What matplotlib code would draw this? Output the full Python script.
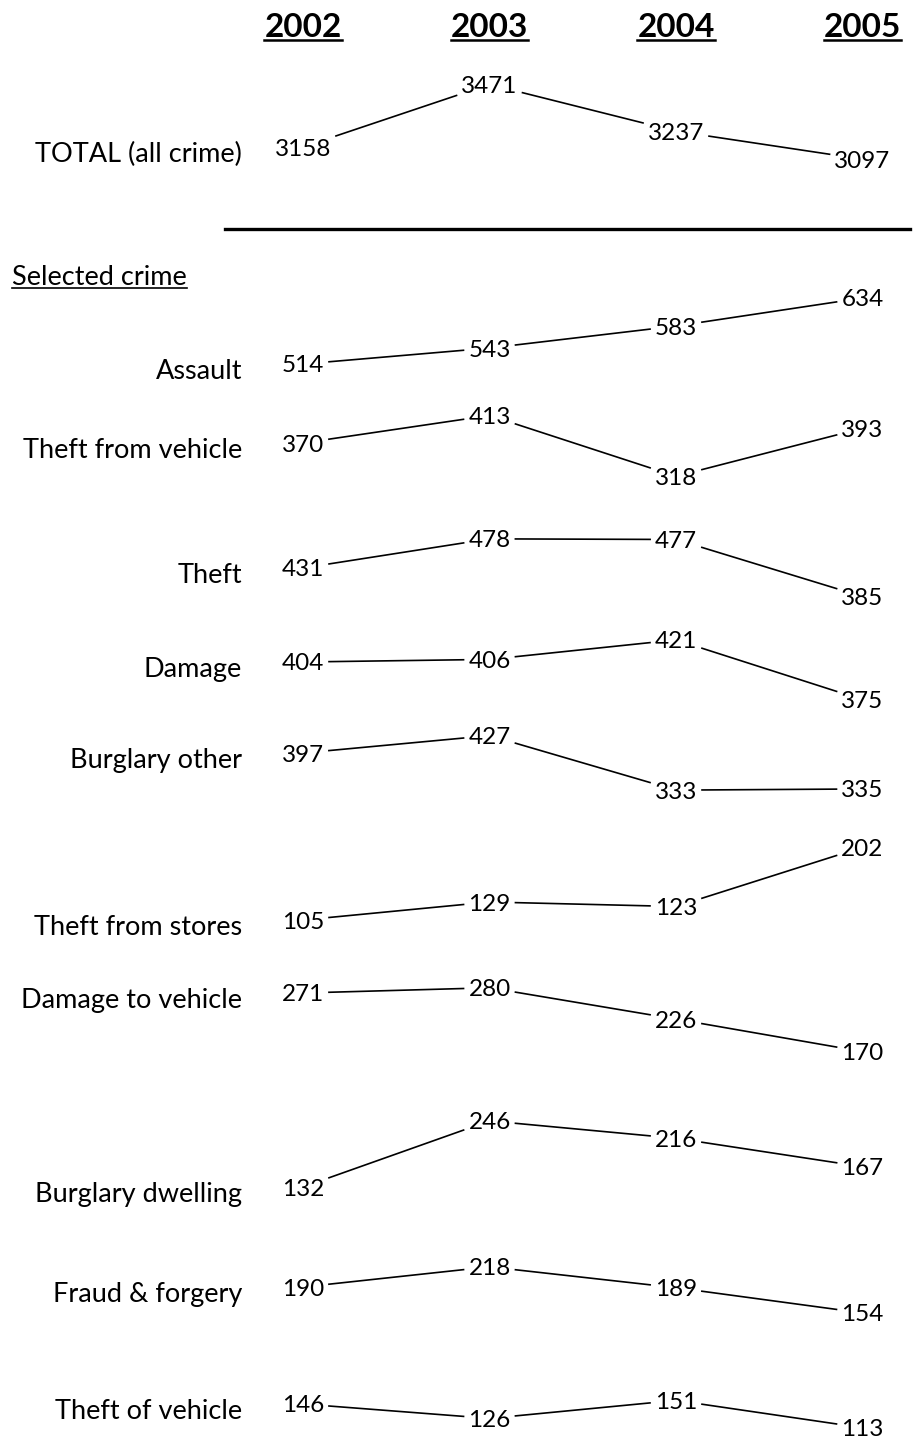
import matplotlib
matplotlib.use('Agg')
import matplotlib.pyplot as plt
from matplotlib.lines import Line2D
from matplotlib.transforms import blended_transform_factory, ScaledTranslation

# --- data -------------------------------------------------------------
years = [2002, 2003, 2004, 2005]

total_label = 'TOTAL (all crime)'
total_counts = [3158, 3471, 3237, 3097]

crimes = ['Assault', 'Theft from vehicle', 'Theft', 'Damage', 'Burglary other',
          'Theft from stores', 'Damage to vehicle', 'Burglary dwelling',
          'Fraud & forgery', 'Theft of vehicle']
counts_2002 = [514, 370, 431, 404, 397, 105, 271, 132, 190, 146]
counts_2003 = [543, 413, 478, 406, 427, 129, 280, 246, 218, 126]
counts_2004 = [583, 318, 477, 421, 333, 123, 226, 216, 189, 151]
counts_2005 = [634, 393, 385, 375, 335, 202, 170, 167, 154, 113]

# --- layout (pixels, from top) -----------------------------------------
W, H = 914, 1444
col_x0, col_step = 303, 186.5          # pixel x of 2002 column, px per year
label_x = 242                          # right edge of row labels
label_drop = 5                         # row labels sit a bit lower than numbers
total_anchor, total_scale = 147, 0.20  # px of 2002 value, px per count
row_anchor = [364, 443, 568, 662, 753, 920, 993, 1187, 1287, 1404]
row_scale = [0.55, 0.64, 0.62, 1.30, 0.58, 0.75, 0.58, 0.58, 0.72, 0.72]

FONT = ['Lato', 'DejaVu Sans']
plt.rcParams['font.family'] = FONT
fs_num = 17.5
fs_label = 19.5
fs_head = 24
line_w = 1.2
pad = 4

fig = plt.figure(figsize=(W / 100, H / 100), dpi=100)
fig.patch.set_facecolor('white')
renderer = fig.canvas.get_renderer()

x_lo = years[0] - col_x0 / col_step
x_hi = x_lo + W / col_step
drop = ScaledTranslation(0, -label_drop / 100, fig.dpi_scale_trans)


def row_axes(v0, anchor, scale):
    ax = fig.add_axes([0, 0, 1, 1])
    ax.set_axis_off()
    ax.patch.set_alpha(0)
    ax.set_xlim(x_lo, x_hi)
    hi = v0 + anchor / scale
    ax.set_ylim(hi - H / scale, hi)
    return ax


def draw_row(label, vals, anchor, scale):
    ax = row_axes(vals[0], anchor, scale)
    texts = [ax.text(yr, v, str(v), ha='center', va='center_baseline',
                     fontsize=fs_num) for yr, v in zip(years, vals)]
    tr = blended_transform_factory(fig.transFigure, ax.transData)
    ax.text(label_x / W, vals[0], label, transform=tr + drop, ha='right',
            va='center_baseline', fontsize=fs_label)
    # connectors: centre-to-centre segments trimmed at text edges
    pts = ax.transData.transform(list(zip(years, vals)))
    half = [t.get_window_extent(renderer).width / 2 for t in texts]
    inv = ax.transData.inverted()
    for i in range(len(years) - 1):
        (xa, ya), (xb, yb) = pts[i], pts[i + 1]
        x1 = xa + half[i] + pad
        x2 = xb - half[i + 1] - pad
        y1 = ya + (yb - ya) * (x1 - xa) / (xb - xa)
        y2 = ya + (yb - ya) * (x2 - xa) / (xb - xa)
        (dx1, dy1), (dx2, dy2) = inv.transform([(x1, y1), (x2, y2)])
        ax.plot([dx1, dx2], [dy1, dy2], color='black', lw=line_w,
                solid_capstyle='butt')
    return ax


def underline(text, lw=1.6, offset=1):
    bb = text.get_window_extent(renderer)
    (fx0, fy), (fx1, _) = fig.transFigure.inverted().transform(
        [(bb.x0, bb.y0 + offset), (bb.x1, bb.y0 + offset)])
    fig.add_artist(Line2D([fx0, fx1], [fy, fy], transform=fig.transFigure,
                          color='black', lw=lw))


# total row + headers
ax_total = draw_row(total_label, total_counts, total_anchor, total_scale)
head_tr = blended_transform_factory(ax_total.transData, fig.transFigure)
for yr in years:
    t = ax_total.text(yr, 1 - 25 / H, str(yr), transform=head_tr, ha='center',
                      va='center_baseline', fontsize=fs_head, fontweight='bold')
    underline(t, lw=1.8, offset=2)

# separating rule
fig.add_artist(Line2D([225 / W, 910 / W], [1 - 229 / H, 1 - 229 / H],
                      transform=fig.transFigure, color='black', lw=2.4))

sel = fig.text(12 / W, 1 - 275 / H, 'Selected crime', ha='left',
               va='center_baseline', fontsize=fs_label)
underline(sel, lw=1.2, offset=2)

for name, a, b, c, d, anc, sc in zip(crimes, counts_2002, counts_2003,
                                     counts_2004, counts_2005, row_anchor,
                                     row_scale):
    draw_row(name, [a, b, c, d], anc, sc)

fig.savefig('out.png', dpi=100)
